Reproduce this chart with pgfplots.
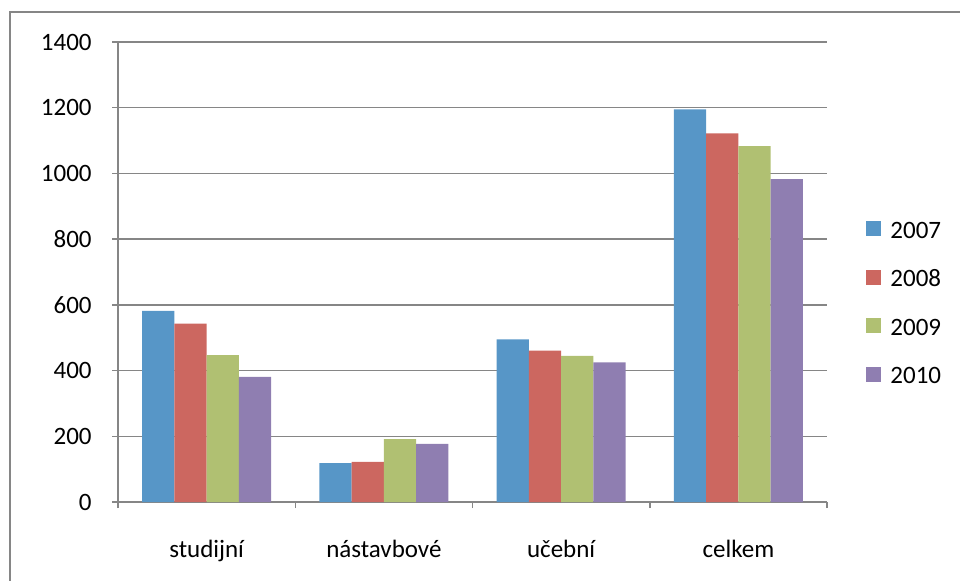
\documentclass[border=0pt]{standalone}
\usepackage{fontspec}
\setmainfont{Carlito}
\usepackage{pgfplots}
\pgfplotsset{compat=1.18}
\definecolor{c07}{RGB}{87,150,199}
\definecolor{c08}{RGB}{204,103,96}
\definecolor{c09}{RGB}{176,192,114}
\definecolor{c10}{RGB}{143,126,177}
\definecolor{axgray}{RGB}{134,134,134}
\begin{document}
\fontsize{12.5bp}{15bp}\selectfont
\begin{tikzpicture}
\useasboundingbox (0bp,0bp) rectangle (480bp,290.5bp);
\draw[axgray, line width=1bp] (5bp,0bp) -- (5bp,284.5bp) -- (480bp,284.5bp);
\begin{axis}[
  at={(59bp,39.5bp)}, anchor=south west,
  scale only axis, width=354.5bp, height=230bp,
  xmin=-0.5, xmax=3.5, ymin=0, ymax=1400,
  ytick={0,200,...,1400},
  xtick={0,1,2,3},
  xticklabels={studijní,nástavbové,učební,celkem},
  minor xtick={-0.5,0.5,1.5,2.5,3.5},
  axis x line*=bottom, axis y line*=left,
  axis line style={axgray, line width=0.75bp},
  ymajorgrids, grid style={axgray, line width=0.75bp},
  tick align=outside,
  ytick style={axgray, line width=0.75bp},
  major tick length=3bp, minor tick length=3bp,
  xtick style={draw=none},
  minor x tick style={draw=axgray, line width=0.75bp},
  /pgf/number format/assume math mode=true,
  /pgf/number format/1000 sep={},
  ticklabel style={font=\fontsize{12.5bp}{15bp}\selectfont, text=black},
  yticklabel style={anchor=east, inner sep=0pt, xshift=-10bp},
  xticklabel style={anchor=base, inner sep=0pt, yshift=-24.5bp},
  ybar=0pt, bar width=0.1818,
  every axis plot/.append style={draw=none},
  legend style={at={(axis description cs:1,0.5)}, anchor=west,
    xshift=19.5bp, yshift=-13.5bp, draw=none, fill=none, inner sep=0pt,
    row sep=12.3bp,
    nodes={inner sep=0pt, text height=12bp, text depth=0pt,
      font=\fontsize{12.5bp}{15bp}\selectfont},
    /tikz/every odd column/.append style={column sep=4.5bp}},
  legend cell align=left,
  legend image code/.code={\fill[#1, draw=none] (0bp,-5bp) rectangle (7.5bp,2.5bp);},
]
\addplot[fill=c07] coordinates {(0,582) (1,118) (2,495) (3,1195)};
\addplot[fill=c08] coordinates {(0,543) (1,122) (2,461) (3,1122)};
\addplot[fill=c09] coordinates {(0,447) (1,191) (2,445) (3,1083)};
\addplot[fill=c10] coordinates {(0,381) (1,177) (2,425) (3,983)};
\legend{2007,2008,2009,2010}
\end{axis}
\end{tikzpicture}
\end{document}
